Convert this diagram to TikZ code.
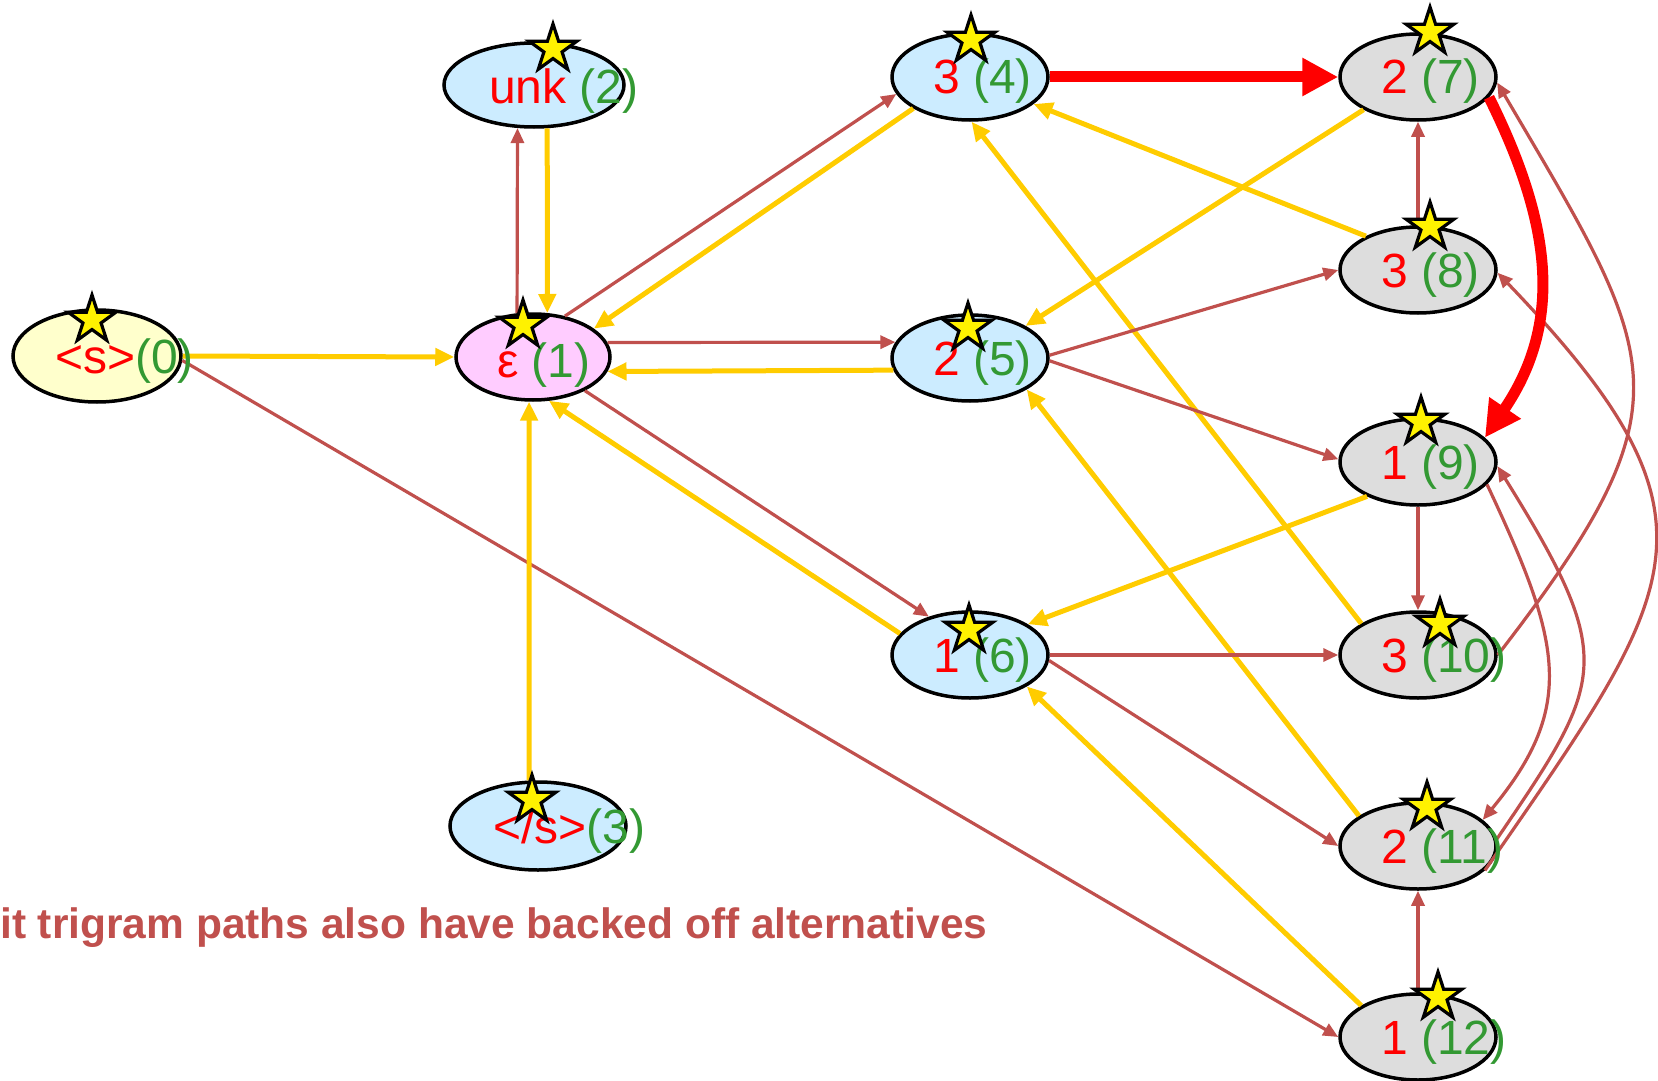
\documentclass[tikz,border=0pt]{standalone}
\usepackage{fontspec}
\setmainfont{Liberation Sans}
\usetikzlibrary{shapes.geometric,arrows.meta}
\definecolor{edgered}{HTML}{C0504D}
\definecolor{edgeyel}{HTML}{FFCC00}
\definecolor{lblred}{HTML}{FF0000}
\definecolor{lblgreen}{HTML}{339933}
\definecolor{fillyel}{HTML}{FFFFCC}
\definecolor{fillpink}{HTML}{FFCCFF}
\definecolor{fillblue}{HTML}{CCECFF}
\definecolor{fillgray}{HTML}{DDDDDD}
\newcommand\nlab[2]{\textcolor{lblred}{#1}\textcolor{lblgreen}{#2}}
\newcommand\nlabsp[2]{\textcolor{lblred}{#1} \textcolor{lblgreen}{#2}}
\tikzset{
 stnode/.style={ellipse, draw=black, line width=3.5pt, minimum width=156pt, minimum height=86pt, inner sep=0pt},
 lbl/.style={anchor=base west, inner sep=0pt, font=\fontsize{48}{52}\selectfont},
 starmark/.style={star, star points=5, star point ratio=2.618, minimum size=50pt, inner sep=0pt, fill=yellow, draw=black, line width=3.2pt},
 redarr/.style={draw=edgered, line width=3.2pt, -{Triangle[length=15pt,width=13pt]}},
 yelarr/.style={draw=edgeyel, line width=5pt, -{Triangle[length=19pt,width=17pt]}},
 bigarr/.style={draw=red, line width=11pt, -{Triangle[length=36pt,width=36pt]}},
}
\begin{document}
\begin{tikzpicture}[x=1pt,y=-1pt]
\useasboundingbox (0,0) rectangle (1658,1081);
% states
\node[stnode, fill=fillyel, minimum width=168pt, minimum height=92pt] (n0) at (97,356) {};
\node[stnode, fill=fillpink, minimum width=154pt, minimum height=86pt] (n1) at (533,357) {};
\node[stnode, fill=fillblue, minimum width=180pt, minimum height=84pt] (n2) at (534,85) {};
\node[stnode, fill=fillblue, minimum width=176pt, minimum height=88pt] (n3) at (538,826) {};
\node[stnode, fill=fillblue] (n4) at (970,77) {};
\node[stnode, fill=fillblue] (n5) at (970,358) {};
\node[stnode, fill=fillblue] (n6) at (970,655) {};
\node[stnode, fill=fillgray] (n7) at (1418,77) {};
\node[stnode, fill=fillgray] (n8) at (1418,270) {};
\node[stnode, fill=fillgray] (n9) at (1418,462) {};
\node[stnode, fill=fillgray] (n10) at (1418,655) {};
\node[stnode, fill=fillgray] (n11) at (1418,846) {};
\node[stnode, fill=fillgray] (n12) at (1418,1037) {};
% edges
\draw[yelarr] (n0.east) -- (n1.west);
\draw[redarr] (n0.-3) -- (n12.west);
\draw[redarr] (n1.110) -- (n2.-111);
\draw[yelarr] (n2.-73) -- (n1.72);
\draw[redarr] (n1.52) -- (n4.-167);
\draw[yelarr] (n4.-151) -- (n1.25);
\draw[redarr] (n1.11) -- (n5.168);
\draw[yelarr] (n5.-171) -- (n1.-11);
\draw[redarr] (n1.-33) -- (n6.137);
\draw[yelarr] (n6.163) -- (n1.-70);
\draw[yelarr] (n3.101) -- (n1.-95);
\draw[yelarr] (n7.-149) -- (n5.30);
\draw[yelarr] (n8.147) -- (n4.-23);
\draw[yelarr] (n9.-146) -- (n6.28);
\draw[yelarr] (n10.151) -- (n4.-88);
\draw[yelarr] (n11.153) -- (n5.-29);
\draw[yelarr] (n12.151) -- (n6.-29);
\draw[redarr] (n5.2) -- (n8.west);
\draw[redarr] (n5.-2) -- (n9.178);
\draw[redarr] (n6.east) -- (n10.west);
\draw[redarr] (n6.-4) -- (n11.west);
\draw[redarr] (n8.north) -- (n7.south);
\draw[redarr] (n9.south) -- (n10.north);
\draw[redarr] (n12.north) -- (n11.south);
\draw[redarr] (n10.east) .. controls (1695,400) and (1660,360) .. (n7.-4);
\draw[redarr] (n11.-20) .. controls (1681,587) and (1736,521) .. (n8.-2);
\draw[redarr] (n9.-18) .. controls (1560,640) and (1578,705) .. (n11.22);
\draw[redarr] (n11.5) .. controls (1605,680) and (1618,660) .. (n9.-3);
\draw[bigarr] (n4.east) -- (n7.west);
\draw[bigarr] (n7.-16) .. controls (1550,220) and (1565,320) .. (n9.20);
% labels
\node[lbl] (l0) at (55,373) {\nlab{<s>}{(0)}};
\node[lbl] (l1) at (497,377) {\nlabsp{ε}{(1)}};
\node[lbl] (l2) at (489,103) {\nlabsp{unk}{(2)}};
\node[lbl] (l3) at (493,843) {\nlab{</s>}{(3)}};
\node[lbl] (l4) at (933,94) {\nlabsp{3}{(4)}};
\node[lbl] (l5) at (933,375) {\nlabsp{2}{(5)}};
\node[lbl] (l6) at (933,672) {\nlabsp{1}{(6)}};
\node[lbl] (l7) at (1381,94) {\nlabsp{2}{(7)}};
\node[lbl] (l8) at (1381,287) {\nlabsp{3}{(8)}};
\node[lbl] (l9) at (1381,479) {\nlabsp{1}{(9)}};
\node[lbl] (l10) at (1381,672) {\nlabsp{3}{(10)}};
\node[lbl] (l11) at (1381,863) {\nlabsp{2}{(11)}};
\node[lbl] (l12) at (1381,1054) {\nlabsp{1}{(12)}};
% stars
\node[starmark] (s0) at (92,320) {};
\node[starmark] (s1) at (523,325) {};
\node[starmark] (s2) at (553,49) {};
\node[starmark] (s3) at (532,800) {};
\node[starmark] (s4) at (971,40) {};
\node[starmark] (s5) at (968,328) {};
\node[starmark] (s6) at (969,630) {};
\node[starmark] (s7) at (1430,32) {};
\node[starmark] (s8) at (1430,227) {};
\node[starmark] (s9) at (1421,422) {};
\node[starmark] (s10) at (1440,624) {};
\node[starmark] (s11) at (1427,807) {};
\node[starmark] (s12) at (1438,997) {};
% caption
\node[anchor=base west, inner sep=0pt, text=edgered, font=\fontsize{42.5}{50}\selectfont\bfseries] (cap) at (0,938) {it trigram paths also have backed off alternatives};
\end{tikzpicture}
\end{document}
